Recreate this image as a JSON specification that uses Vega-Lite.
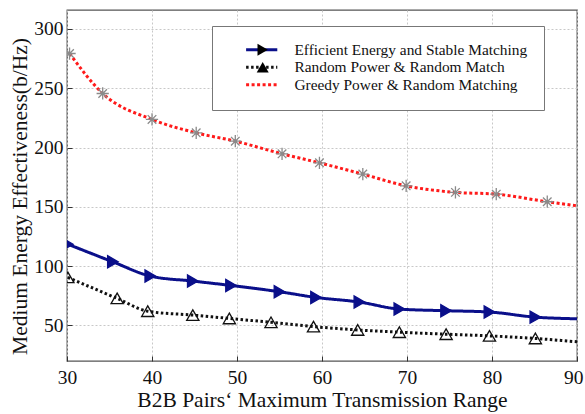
{
  "$schema": "https://vega.github.io/schema/vega-lite/v6.json",
  "width": 510,
  "height": 351,
  "autosize": "none",
  "padding": {"left": 67, "top": 10, "right": 8, "bottom": 53},
  "background": "white",
  "config": {
    "font": "Liberation Serif",
    "view": {"stroke": "#555555", "strokeWidth": 1.3},
    "axis": {
      "domain": false,
      "grid": true,
      "gridColor": "#c8c8c8",
      "gridDash": [2, 2],
      "gridWidth": 1,
      "tickColor": "#333333",
      "tickSize": -5,
      "labelFont": "Liberation Serif",
      "labelFontSize": 19.5,
      "labelColor": "#111111",
      "titleFont": "Liberation Serif",
      "titleFontWeight": "normal",
      "titleFontSize": 21.5,
      "titleColor": "#111111"
    }
  },
  "data": {
    "values": [
      {"series": "Efficient Energy and Stable Matching", "x": 30.1, "y": 118.5},
      {"series": "Efficient Energy and Stable Matching", "x": 35.4, "y": 103.6},
      {"series": "Efficient Energy and Stable Matching", "x": 39.8, "y": 91.6},
      {"series": "Efficient Energy and Stable Matching", "x": 44.8, "y": 87.4},
      {"series": "Efficient Energy and Stable Matching", "x": 49.3, "y": 83.7},
      {"series": "Efficient Energy and Stable Matching", "x": 55.0, "y": 78.4},
      {"series": "Efficient Energy and Stable Matching", "x": 59.3, "y": 73.6},
      {"series": "Efficient Energy and Stable Matching", "x": 64.4, "y": 69.7},
      {"series": "Efficient Energy and Stable Matching", "x": 69.1, "y": 63.8},
      {"series": "Efficient Energy and Stable Matching", "x": 74.6, "y": 62.4},
      {"series": "Efficient Energy and Stable Matching", "x": 79.7, "y": 61.3},
      {"series": "Efficient Energy and Stable Matching", "x": 85.1, "y": 57.0},
      {"series": "Efficient Energy and Stable Matching", "x": 90.0, "y": 55.6},
      {"series": "Random Power & Random Match", "x": 30.1, "y": 90.5},
      {"series": "Random Power & Random Match", "x": 35.9, "y": 72.8},
      {"series": "Random Power & Random Match", "x": 39.5, "y": 62.0},
      {"series": "Random Power & Random Match", "x": 44.8, "y": 58.7},
      {"series": "Random Power & Random Match", "x": 49.1, "y": 55.9},
      {"series": "Random Power & Random Match", "x": 54.0, "y": 52.6},
      {"series": "Random Power & Random Match", "x": 59.0, "y": 49.0},
      {"series": "Random Power & Random Match", "x": 64.2, "y": 46.2},
      {"series": "Random Power & Random Match", "x": 69.1, "y": 44.3},
      {"series": "Random Power & Random Match", "x": 74.6, "y": 42.6},
      {"series": "Random Power & Random Match", "x": 79.7, "y": 41.2},
      {"series": "Random Power & Random Match", "x": 85.1, "y": 39.0},
      {"series": "Random Power & Random Match", "x": 90.0, "y": 36.2},
      {"series": "Greedy Power & Random Matching", "x": 30.3, "y": 279.3},
      {"series": "Greedy Power & Random Matching", "x": 34.2, "y": 245.6},
      {"series": "Greedy Power & Random Matching", "x": 40.0, "y": 223.7},
      {"series": "Greedy Power & Random Matching", "x": 45.2, "y": 212.4},
      {"series": "Greedy Power & Random Matching", "x": 49.8, "y": 205.4},
      {"series": "Greedy Power & Random Matching", "x": 55.3, "y": 194.7},
      {"series": "Greedy Power & Random Matching", "x": 59.7, "y": 187.1},
      {"series": "Greedy Power & Random Matching", "x": 64.8, "y": 177.6},
      {"series": "Greedy Power & Random Matching", "x": 69.9, "y": 167.7},
      {"series": "Greedy Power & Random Matching", "x": 75.7, "y": 162.2},
      {"series": "Greedy Power & Random Matching", "x": 80.5, "y": 160.7},
      {"series": "Greedy Power & Random Matching", "x": 86.5, "y": 154.3},
      {"series": "Greedy Power & Random Matching", "x": 90.0, "y": 150.9}
    ]
  },
  "encoding": {
    "x": {
      "field": "x",
      "type": "quantitative",
      "scale": {"domain": [30, 90], "nice": false, "zero": false},
      "axis": {
        "values": [30, 40, 50, 60, 70, 80, 90],
        "title": "B2B Pairs‘ Maximum Transmission Range",
        "labelPadding": 12,
        "titlePadding": 3,
        "labelFlush": false,
        "labelAlign": {"condition": {"test": "datum.value >= 90", "value": "right"}, "value": "center"},
        "labelOffset": {"condition": {"test": "datum.value >= 90", "value": 6}, "value": 0}
      }
    },
    "y": {
      "field": "y",
      "type": "quantitative",
      "scale": {"domain": [20, 316], "nice": false, "zero": false},
      "axis": {"values": [50, 100, 150, 200, 250, 300], "title": "Medium Energy Effectiveness(b/Hz)", "labelPadding": 9, "titlePadding": 2, "titleY": 186}
    }
  },
  "layer": [
    {
      "mark": {"type": "line", "interpolate": "monotone", "strokeWidth": 3, "clip": true},
      "encoding": {
        "color": {
          "field": "series",
          "type": "nominal",
          "scale": {"domain": ["Efficient Energy and Stable Matching", "Random Power & Random Match", "Greedy Power & Random Matching"], "range": ["#0a0f8a", "#111111", "#ff1a1a"]},
          "legend": {
            "orient": "none",
            "legendX": 145,
            "legendY": 16,
            "title": null,
            "padding": 16,
            "fillColor": "white",
            "strokeColor": "#777777",
            "symbolType": "M-2.6,0H2.6",
            "symbolSize": 144,
            "symbolStrokeWidth": 3,
            "symbolOffset": 26,
            "labelOffset": 25,
            "labelFont": "Liberation Serif",
            "labelFontSize": 15.4,
            "labelColor": "#111111",
            "labelLimit": 500,
            "rowPadding": 0.5,
            "labelExpr": "datum.label + '\u00a0\u00a0\u00a0\u00a0\u00a0'"
          }
        },
        "strokeDash": {
          "field": "series",
          "type": "nominal",
          "scale": {"domain": ["Efficient Energy and Stable Matching", "Random Power & Random Match", "Greedy Power & Random Matching"], "range": [[1, 0], [2.5, 2.5], [3, 2.5]]}
        }
      }
    },
    {
      "transform": [{"filter": "datum.x < 89"}],
      "mark": {"type": "point", "size": 150, "strokeWidth": 1.3, "opacity": 1, "clip": true},
      "encoding": {
        "shape": {
          "field": "series",
          "type": "nominal",
          "sort": ["Efficient Energy and Stable Matching", "Random Power & Random Match", "Greedy Power & Random Matching"],
          "scale": {"range": ["triangle-right", "triangle-up", "M-1,0L1,0M0,-1L0,1M-0.7,-0.7L0.7,0.7M-0.7,0.7L0.7,-0.7"]},
          "legend": {
            "orient": "none",
            "legendX": 145,
            "legendY": 16,
            "title": null,
            "padding": 16,
            "symbolSize": 144,
            "symbolStrokeWidth": 1.2,
            "symbolOffset": 27,
            "labelOffset": 25,
            "labelFont": "Liberation Serif",
            "labelFontSize": 15.4,
            "labelColor": "rgba(0,0,0,0)",
            "labelLimit": 500,
            "rowPadding": 0.5,
            "labelExpr": "''",
            "encode": {
              "symbols": {
                "update": {
                  "fill": {"scale": "fill", "field": "value"},
                  "stroke": {"scale": "stroke", "field": "value"}
                }
              }
            }
          }
        },
        "fill": {
          "field": "series",
          "type": "nominal",
          "sort": ["Efficient Energy and Stable Matching", "Random Power & Random Match", "Greedy Power & Random Matching"],
          "scale": {"range": ["#0a0f8a", "rgba(255,255,255,0)", "rgba(255,255,255,0)"]},
          "legend": null
        },
        "stroke": {
          "field": "series",
          "type": "nominal",
          "sort": ["Efficient Energy and Stable Matching", "Random Power & Random Match", "Greedy Power & Random Matching"],
          "scale": {"range": ["#0a0f8a", "#111111", "#8a8a8a"]},
          "legend": null
        }
      }
    }
  ]
}
